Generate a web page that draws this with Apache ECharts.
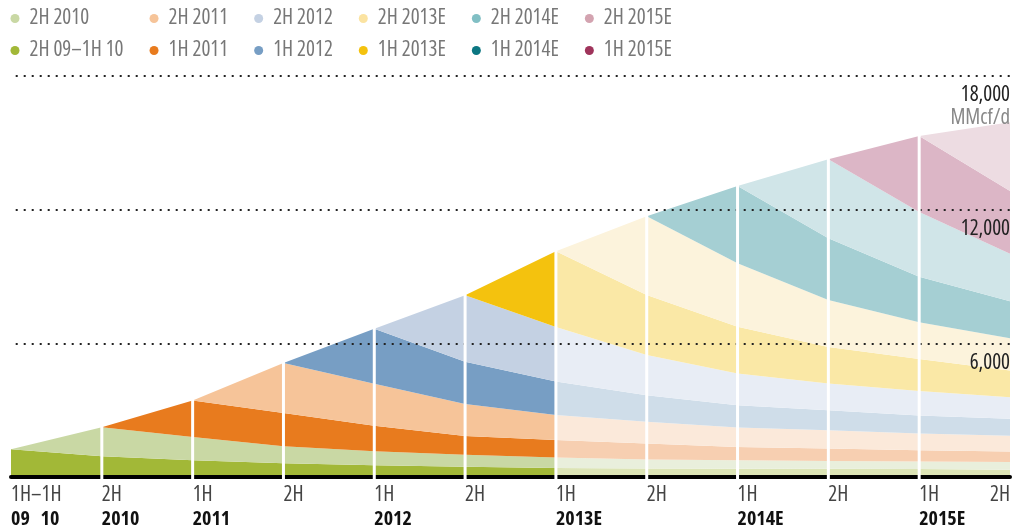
<!DOCTYPE html>
<html>
<head>
<meta charset="utf-8">
<script src="https://cdn.jsdelivr.net/npm/echarts@6/dist/echarts.min.js"></script>
<style>
html,body{margin:0;padding:0;background:#fff;}
#c{width:1025px;height:529px;}
</style>
</head>
<body>
<div id="c"></div>
<script>
// ---- data (MMcf/d), half-year boundaries 0..11 ----
const tickTop = ['1H\u20131H', '2H', '1H', '2H', '1H', '2H', '1H', '2H', '1H', '2H', '1H', '2H'];
const tickYear = ['09   10', '2010', '2011', '', '2012', '', '2013E', '', '2014E', '', '2015E', ''];
const cohortNames = ['2H 09\u20131H 10', '2H 2010', '1H 2011', '2H 2011', '1H 2012', '2H 2012',
  '1H 2013E', '2H 2013E', '1H 2014E', '2H 2014E', '1H 2015E', '2H 2015E'];
const v0  = [1250, 935, 755, 620, 530, 455, 400, 385, 375, 365, 355, 330];
const v1  = [0, 1300, 1035, 765, 630, 540, 480, 400, 375, 355, 345, 340];
const v2  = ['-', 0, 1640, 1483, 1140, 840, 780, 720, 600, 555, 500, 480];
const v3  = ['-', '-', 0, 2250, 1890, 1440, 1125, 970, 870, 820, 750, 700];
const v4  = ['-', '-', '-', 0, 2470, 1900, 1500, 1200, 1000, 900, 810, 765];
const v5  = ['-', '-', '-', '-', 0, 2985, 2445, 1800, 1425, 1200, 1100, 960];
const v6  = ['-', '-', '-', '-', '-', 0, 3400, 2700, 2095, 1645, 1440, 1200];
const v7  = ['-', '-', '-', '-', '-', '-', 0, 3530, 2850, 2100, 1650, 1450];
const v8  = ['-', '-', '-', '-', '-', '-', '-', 0, 3475, 2775, 2035, 1660];
const v9  = ['-', '-', '-', '-', '-', '-', '-', '-', 0, 3550, 2910, 2135];
const v10 = ['-', '-', '-', '-', '-', '-', '-', '-', '-', 0, 3415, 2820];
const v11 = ['-', '-', '-', '-', '-', '-', '-', '-', '-', '-', 0, 3080];
const cohortValues = [v0, v1, v2, v3, v4, v5, v6, v7, v8, v9, v10, v11];
const yTicks = [6000, 12000, 18000];
const estimateFrom = 6; // 1H 2013E onwards drawn in pale tones

// ---- styling ----
const fullColors = ['#a2b837', '#c9d8a4', '#e87b1e', '#f6c499', '#779ec4', '#c4d1e3',
  '#f4c20e', '#fbe3a1', '#0c7782', '#81bfc4', '#9f345b', '#d3a3b0'];
const paleColors = ['#dce4b5', '#e9efdc', '#f7cfb1', '#fbe9da', '#cfdde9', '#e8edf5',
  '#fae8a6', '#fcf3dc', '#a5cfd3', '#d0e5e8', '#dcb6c6', '#eddce2'];
const FONT = "'Open Sans','DejaVu Sans Condensed',sans-serif";
const W_REG = '400 condensed';
const W_BOLD = '700 condensed';

const chart = echarts.init(document.getElementById('c'), null, {renderer: 'canvas'});
const lastIdx = tickTop.length - 1;
const num = v => (typeof v === 'number' ? v : 0);

function areaColor(vals, i) {
  let start = 0;
  while (typeof vals[start] !== 'number') start++;
  if (start >= estimateFrom) return paleColors[i];
  const f = (estimateFrom - start) / (lastIdx - start);
  return new echarts.graphic.LinearGradient(0, 0, 1, 0, [
    {offset: 0, color: fullColors[i]}, {offset: f, color: fullColors[i]},
    {offset: f, color: paleColors[i]}, {offset: 1, color: paleColors[i]}
  ]);
}

const series = cohortValues.map((vals, i) => ({
  name: cohortNames[i],
  type: 'line',
  stack: 'total',
  color: fullColors[i],
  data: vals,
  showSymbol: false,
  symbol: 'none',
  lineStyle: {width: 0},
  areaStyle: {opacity: 1, color: areaColor(vals, i)},
  silent: true,
  z: 2
}));

const totals = tickTop.map((_, j) => cohortValues.reduce((s, arr) => s + num(arr[j]), 0));
const sepData = [];
for (let j = 1; j < lastIdx; j++) sepData.push([j, totals[j]]);

series.push({
  type: 'custom',
  name: 'sep',
  z: 5,
  silent: true,
  clip: false,
  data: sepData,
  renderItem: function (params, api) {
    const top = api.coord([api.value(0), api.value(1)]);
    const bot = api.coord([api.value(0), 0]);
    return {
      type: 'rect',
      shape: {x: top[0] - 1.5, y: top[1] - 1, width: 3, height: bot[1] - top[1] + 4},
      style: {fill: '#ffffff'}
    };
  }
});

const legendOrder = [];
for (let k = 0; k < 6; k++) { legendOrder.push(cohortNames[2 * k + 1]); legendOrder.push(cohortNames[2 * k]); }

chart.setOption({
  animation: false,
  backgroundColor: '#fff',
  textStyle: {fontFamily: FONT},
  legend: {
    orient: 'vertical',
    left: 10.5,
    top: 8,
    height: 64,
    padding: 0,
    itemGap: 11,
    itemWidth: 9,
    itemHeight: 9,
    icon: 'circle',
    selectedMode: false,
    data: legendOrder,
    textStyle: {fontFamily: FONT, fontWeight: W_REG, fontSize: 21, color: '#777', lineHeight: 20, padding: [0, 15, 0, 5]}
  },
  grid: {left: 11, right: 15, top: 76, bottom: 52, containLabel: false},
  xAxis: {
    type: 'category',
    boundaryGap: false,
    data: tickTop.map((_, j) => String(j)),
    z: 3,
    axisLine: {show: true, onZero: false, lineStyle: {color: '#000', width: 4}},
    axisTick: {show: false},
    splitLine: {show: false},
    axisLabel: {
      show: true,
      interval: 0,
      margin: 6,
      align: 'left',
      alignMaxLabel: 'right',
      formatter: function (val, idx) {
        const t = tickTop[idx] || '';
        const y = tickYear[idx];
        return y ? '{a|' + t + '}\n{b|' + y + '}' : '{a|' + t + '}';
      },
      rich: {
        a: {fontFamily: FONT, fontWeight: W_REG, fontSize: 21, color: '#444', lineHeight: 24},
        b: {fontFamily: FONT, fontWeight: W_BOLD, fontSize: 20, color: '#111', lineHeight: 24}
      }
    }
  },
  yAxis: {
    type: 'value',
    position: 'right',
    min: 0,
    max: 18000,
    interval: 6000,
    z: 3,
    axisLine: {show: false},
    axisTick: {show: false},
    splitLine: {
      show: true,
      showMinLine: false,
      lineStyle: {color: '#222', width: 2, type: [2, 6], dashOffset: 3.3}
    },
    axisLabel: {
      inside: true,
      margin: 0,
      verticalAlign: 'top',
      padding: [8, 0, 0, 0],
      formatter: function (val) {
        if (yTicks.indexOf(val) < 0) return '';
        const s = val.toLocaleString('en-US');
        return val === yTicks[yTicks.length - 1] ? '{n|' + s + '}\n{u|MMcf/d}' : '{n|' + s + '}';
      },
      rich: {
        n: {fontFamily: FONT, fontWeight: W_REG, fontSize: 21, color: '#222', lineHeight: 23, align: 'right'},
        u: {fontFamily: FONT, fontWeight: W_REG, fontSize: 21, color: '#888', lineHeight: 23, align: 'right'}
      }
    }
  },
  series: series
});
</script>
</body>
</html>
